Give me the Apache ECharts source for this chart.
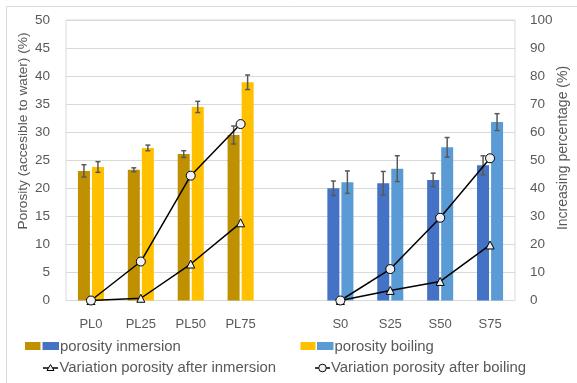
<!DOCTYPE html>
<html>
<head>
<meta charset="utf-8">
<script src="https://cdn.jsdelivr.net/npm/echarts@6/dist/echarts.min.js"></script>
<style>html,body{margin:0;padding:0;background:#fff}#c{width:577px;height:383px}</style>
</head>
<body>
<div id="c"></div>
<script>
var categories = ['PL0', 'PL25', 'PL50', 'PL75', '', 'S0', 'S25', 'S50', 'S75'];
var porosityInmersion = [23.1, 23.3, 26.1, 29.5, '-', 20.0, 20.9, 21.5, 24.1];
var porosityInmersionErr = [1.1, 0.35, 0.6, 1.6, '-', 1.3, 2.1, 1.2, 1.7];
var porosityBoiling = [23.8, 27.2, 34.5, 38.9, '-', 21.1, 23.5, 27.3, 31.8];
var porosityBoilingErr = [0.95, 0.5, 1.0, 1.3, '-', 2.0, 2.3, 1.75, 1.5];
var varInmersionPL = [0, 0.8, 13.0, 27.7, '-', '-', '-', '-', '-'];
var varInmersionS = ['-', '-', '-', '-', '-', 0, 3.6, 6.8, 19.8];
var varBoilingPL = [0, 13.9, 44.5, 62.9, '-', '-', '-', '-', '-'];
var varBoilingS = ['-', '-', '-', '-', '-', 0, 11.2, 29.5, 50.7];
var leftTicks = {min: 0, max: 50, interval: 5};
var rightTicks = {min: 0, max: 100, interval: 10};

var FONT = '"Liberation Sans", Arial, sans-serif';
var TXT = '#595959';
var colInmPL = '#BF9000', colBoilPL = '#FFC000', colInmS = '#4472C4', colBoilS = '#5B9BD5';

function errData(vals, errs) {
  var out = [];
  vals.forEach(function (v, i) { if (v !== '-') out.push([i, v, errs[i]]); });
  return out;
}
function errSeries(vals, errs, offset) {
  return {
    type: 'custom', xAxisIndex: 0, yAxisIndex: 0, z: 5,
    data: errData(vals, errs),
    renderItem: function (params, api) {
      var c = api.value(0), v = api.value(1), e = api.value(2);
      var p1 = api.coord([c, v + e]), p2 = api.coord([c, v - e]);
      var x = p1[0] + offset;
      var st = {stroke: '#595959', lineWidth: 1.5};
      return {type: 'group', children: [
        {type: 'line', shape: {x1: x, y1: p1[1], x2: x, y2: p2[1]}, style: st},
        {type: 'line', shape: {x1: x - 2.5, y1: p1[1], x2: x + 2.5, y2: p1[1]}, style: st},
        {type: 'line', shape: {x1: x - 2.5, y1: p2[1], x2: x + 2.5, y2: p2[1]}, style: st}
      ]};
    }
  };
}
function lineSeries(data, symbol, size) {
  return {
    type: 'line', xAxisIndex: 0, yAxisIndex: 1, data: data, z: 10,
    symbol: symbol, symbolSize: size, showAllSymbol: true,
    lineStyle: {color: '#000', width: 1.5},
    itemStyle: {color: '#F2F2F2', borderColor: '#000', borderWidth: 1},
    animation: false
  };
}

var chart = echarts.init(document.getElementById('c'), null, {renderer: 'canvas'});
chart.setOption({
  animation: false,
  grid: {left: 66, right: 62, top: 20, bottom: 82.5, show: true, borderColor: '#D9D9D9', borderWidth: 1},
  xAxis: {type: 'category', data: categories, axisLine: {show: false}, axisTick: {show: false},
    axisLabel: {show: true, color: TXT, fontFamily: FONT, fontSize: 13, margin: 17, interval: 0}},
  yAxis: [
    {type: 'value', min: leftTicks.min, max: leftTicks.max, interval: leftTicks.interval,
     axisLine: {show: false}, axisTick: {show: false},
     axisLabel: {color: TXT, fontFamily: FONT, fontSize: 13.5, margin: 16},
     splitLine: {lineStyle: {color: '#D9D9D9', width: 1}}},
    {type: 'value', position: 'right', min: rightTicks.min, max: rightTicks.max, interval: rightTicks.interval,
     axisLine: {show: false}, axisTick: {show: false},
     axisLabel: {color: TXT, fontFamily: FONT, fontSize: 13.5, margin: 15},
     splitLine: {show: false}}
  ],
  series: [
    {type: 'bar', yAxisIndex: 0, data: porosityInmersion, barWidth: 12, barGap: '17%',
     itemStyle: {color: function (p) { return p.dataIndex < 4 ? colInmPL : colInmS; }}},
    {type: 'bar', yAxisIndex: 0, data: porosityBoiling, barWidth: 12, barGap: '17%',
     itemStyle: {color: function (p) { return p.dataIndex < 4 ? colBoilPL : colBoilS; }}},
    errSeries(porosityInmersion, porosityInmersionErr, -7),
    errSeries(porosityBoiling, porosityBoilingErr, 7),
    lineSeries(varInmersionPL, 'triangle', 8),
    lineSeries(varInmersionS, 'triangle', 8),
    lineSeries(varBoilingPL, 'circle', 9),
    lineSeries(varBoilingS, 'circle', 9)
  ],
  graphic: [
    {type: 'line', shape: {x1: 6.5, y1: 6.5, x2: 577, y2: 6.5}, style: {stroke: '#D9D9D9', lineWidth: 1}},
    {type: 'line', shape: {x1: 6.5, y1: 6.5, x2: 6.5, y2: 383}, style: {stroke: '#D9D9D9', lineWidth: 1}},
    {type: 'text', x: 23, y: 131, rotation: Math.PI / 2,
     style: {text: 'Porosity (accesible to water) (%)', fill: TXT, font: '13.7px ' + FONT, textAlign: 'center', textVerticalAlign: 'middle'}},
    {type: 'text', x: 563, y: 148, rotation: Math.PI / 2,
     style: {text: 'Increasing percentage (%)', fill: TXT, font: '14px ' + FONT, textAlign: 'center', textVerticalAlign: 'middle'}},
    // legend row 1
    {type: 'rect', shape: {x: 25, y: 342, width: 15.5, height: 8}, style: {fill: colInmPL}},
    {type: 'rect', shape: {x: 42.5, y: 342, width: 16.5, height: 8}, style: {fill: colInmS}},
    {type: 'text', x: 60, y: 347, style: {text: 'porosity inmersion', fill: TXT, font: '14.9px ' + FONT, textVerticalAlign: 'middle'}},
    {type: 'rect', shape: {x: 300.5, y: 342, width: 15, height: 8}, style: {fill: colBoilPL}},
    {type: 'rect', shape: {x: 317, y: 342, width: 16.5, height: 8}, style: {fill: colBoilS}},
    {type: 'text', x: 334.5, y: 347, style: {text: 'porosity boiling', fill: TXT, font: '14.9px ' + FONT, textVerticalAlign: 'middle'}},
    // legend row 2
    {type: 'line', shape: {x1: 43, y1: 368, x2: 58, y2: 368}, style: {stroke: '#000', lineWidth: 1.5}},
    {type: 'polygon', shape: {points: [[50.5, 364.5], [54, 370.5], [47, 370.5]]}, style: {fill: '#F2F2F2', stroke: '#000', lineWidth: 1}},
    {type: 'text', x: 59.5, y: 367.5, style: {text: 'Variation porosity after inmersion', fill: TXT, font: '14.9px ' + FONT, textVerticalAlign: 'middle'}},
    {type: 'line', shape: {x1: 315, y1: 368, x2: 330, y2: 368}, style: {stroke: '#000', lineWidth: 1.5}},
    {type: 'circle', shape: {cx: 322.5, cy: 368, r: 3.8}, style: {fill: '#F2F2F2', stroke: '#000', lineWidth: 1}},
    {type: 'text', x: 331, y: 367.5, style: {text: 'Variation porosity after boiling', fill: TXT, font: '14.9px ' + FONT, textVerticalAlign: 'middle'}}
  ]
});
</script>
</body>
</html>
